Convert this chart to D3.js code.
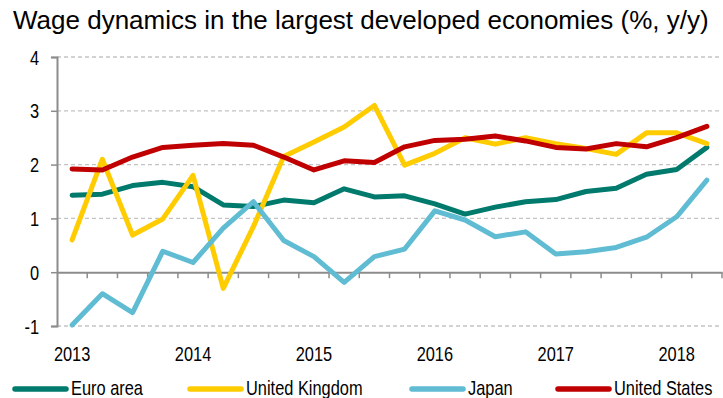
<!DOCTYPE html>
<html>
<head>
<meta charset="utf-8">
<script src="https://cdn.jsdelivr.net/npm/d3@7/dist/d3.min.js"></script>
<style>
  html, body { margin: 0; padding: 0; background: #ffffff; }
  svg { display: block; }
  text { font-family: "Liberation Sans", Arial, sans-serif; fill: #000; }
</style>
</head>
<body>
<svg id="chart" width="723" height="398"></svg>
<script>
// Quarterly observations, 2013 Q1 – 2018 Q2
const quarters = [
  "2013 Q1","2013 Q2","2013 Q3","2013 Q4",
  "2014 Q1","2014 Q2","2014 Q3","2014 Q4",
  "2015 Q1","2015 Q2","2015 Q3","2015 Q4",
  "2016 Q1","2016 Q2","2016 Q3","2016 Q4",
  "2017 Q1","2017 Q2","2017 Q3","2017 Q4",
  "2018 Q1","2018 Q2"
];

// Wage growth, % y/y
const euroArea      = [1.43,1.45,1.61,1.67,1.59,1.25,1.22,1.34,1.29,1.55,1.40,1.42,1.27,1.08,1.21,1.31,1.35,1.50,1.56,1.82,1.91,2.32];
const unitedKingdom = [0.60,2.10,0.69,0.99,1.80,-0.30,0.85,2.15,2.42,2.70,3.10,1.99,2.21,2.50,2.38,2.50,2.39,2.30,2.19,2.59,2.59,2.39];
const japan         = [-0.98,-0.40,-0.75,0.39,0.18,0.82,1.31,0.59,0.29,-0.19,0.29,0.43,1.14,0.97,0.66,0.75,0.34,0.38,0.46,0.65,1.03,1.71];
const unitedStates  = [1.92,1.90,2.14,2.32,2.36,2.39,2.36,2.14,1.90,2.07,2.04,2.33,2.45,2.47,2.53,2.44,2.32,2.29,2.39,2.33,2.50,2.71];

const seriesNames  = ["Euro area","United Kingdom","Japan","United States"];
const seriesColors = ["#007A6C","#FFCC00","#5FBCD3","#C00000"];
const seriesValues = [euroArea, unitedKingdom, japan, unitedStates];

// Year labels sit under the first quarter of each year
const yearLabels   = ["2013","2014","2015","2016","2017","2018"];
const yearQuarters = ["2013 Q1","2014 Q1","2015 Q1","2016 Q1","2017 Q1","2018 Q1"];
const yTicks = [-1,0,1,2,3,4];

const svg = d3.select("#chart");
const plotLeft = 57, plotRight = 722, plotTop = 57, plotBottom = 326;

const x = d3.scaleBand().domain(quarters).range([plotLeft, plotRight]).paddingInner(0).paddingOuter(0);
const cx = q => x(q) + x.bandwidth() / 2;
const y = d3.scaleLinear().domain([-1, 4]).range([plotBottom, plotTop]);

const axisColor = "#8c8c8c";

// Condensed labels: squeeze the regular face horizontally around its anchor point
function narrow(sel) {
  sel.each(function () {
    const t = d3.select(this);
    const tx = +t.attr("x") || 0, ty = +t.attr("y") || 0;
    t.attr("x", 0).attr("y", 0)
     .attr("transform", `translate(${tx},${ty}) scale(0.82,1)`);
  });
}

// Title
svg.append("text")
  .attr("x", 13).attr("y", 28.7)
  .style("font-size", "26px")
  .text("Wage dynamics in the largest developed economies (%, y/y)");

// Dashed gridlines
svg.append("g").selectAll("line")
  .data(yTicks.filter(d => d !== 0))
  .join("line")
  .attr("x1", plotLeft).attr("x2", plotRight)
  .attr("y1", d => y(d)).attr("y2", d => y(d))
  .attr("stroke", "#c4c4c4").attr("stroke-width", 1.3)
  .attr("stroke-dasharray", "4,3");

// Y axis
const yAxis = svg.append("g")
  .attr("transform", `translate(${plotLeft},0)`)
  .call(d3.axisLeft(y).tickValues(yTicks).tickSize(6).tickPadding(12).tickFormat(d => String(d)));
yAxis.select(".domain").attr("stroke", axisColor).attr("stroke-width", 2);
yAxis.selectAll(".tick line").attr("stroke", axisColor).attr("stroke-width", 1.5);
yAxis.attr("font-family", null).attr("font-size", null);
yAxis.selectAll(".tick text")
  .style("font-size", "20px").attr("fill", "#000").attr("dy", "0.35em")
  .call(narrow);

// Zero line with quarter ticks
const xAxis = svg.append("g")
  .attr("transform", `translate(0,${y(0)})`)
  .call(d3.axisBottom(x).tickSize(0).tickFormat(""));
xAxis.select(".domain").attr("stroke", axisColor).attr("stroke-width", 2);
xAxis.selectAll(".tick").remove();
svg.append("g").selectAll("line")
  .data(quarters)
  .join("line")
  .attr("x1", d => x(d) + x.bandwidth()).attr("x2", d => x(d) + x.bandwidth())
  .attr("y1", y(0)).attr("y2", y(0) + 6)
  .attr("stroke", axisColor).attr("stroke-width", 1.5);

// Year labels
svg.append("g").selectAll("text")
  .data(yearLabels)
  .join("text")
  .attr("x", (d, i) => cx(yearQuarters[i]))
  .attr("y", 360.5)
  .attr("text-anchor", "middle")
  .style("font-size", "20px")
  .text(d => d)
  .call(narrow);

// Series lines
const line = d3.line()
  .x((d, i) => cx(quarters[i]))
  .y(d => y(d));

svg.append("g").selectAll("path")
  .data(seriesValues)
  .join("path")
  .attr("d", d => line(d))
  .attr("fill", "none")
  .attr("stroke", (d, i) => seriesColors[i])
  .attr("stroke-width", 5)
  .attr("stroke-linejoin", "round")
  .attr("stroke-linecap", "round");

// Legend
const legendX = [15, 190, 412, 558];
const legend = svg.append("g").selectAll("g")
  .data(seriesNames)
  .join("g")
  .attr("transform", (d, i) => `translate(${legendX[i]},389)`);
legend.append("line")
  .attr("x1", 0).attr("x2", 51).attr("y1", 0).attr("y2", 0)
  .attr("stroke", (d, i) => seriesColors[i])
  .attr("stroke-width", 5.5).attr("stroke-linecap", "round");
legend.append("text")
  .attr("x", 56).attr("y", 6)
  .style("font-size", "20px")
  .text(d => d)
  .call(narrow);
</script>
</body>
</html>
